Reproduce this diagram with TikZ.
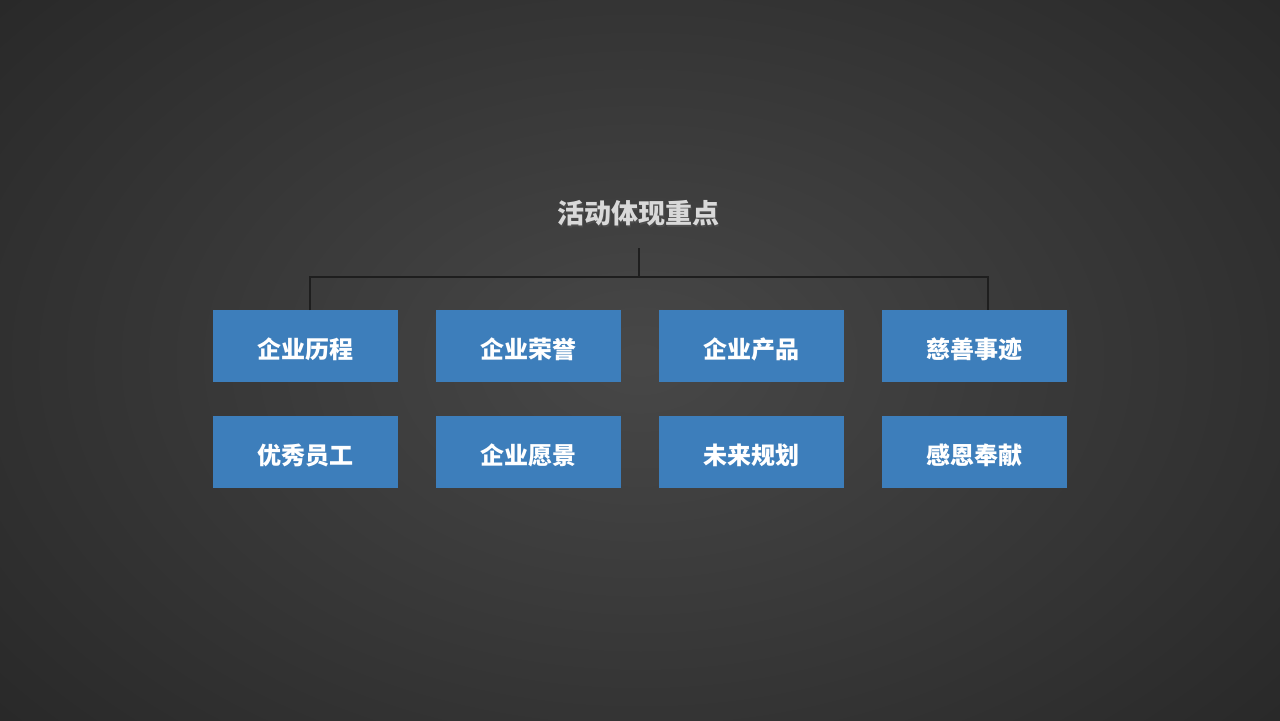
\documentclass[tikz,border=0pt]{standalone}
\usepackage{fontspec}
\newfontfamily\cjk{Noto Sans CJK SC}
\definecolor{boxblue}{HTML}{3D7EBB}
\definecolor{linec}{HTML}{1E1E1E}
\begin{document}
\begin{tikzpicture}[x=0.5pt,y=-0.5pt,
  item/.style={fill=boxblue,minimum width=92.5pt,minimum height=36pt,inner sep=0pt,text=white,text depth=0pt,font=\cjk\bfseries\fontsize{12}{14}\selectfont},
  conn/.style={draw=linec,line width=0.6pt}]
\useasboundingbox (0,0) rectangle (1280,720);
\shade[inner color=black!72,outer color=black!84] (-200,-200) rectangle (1480,920);
\node[text=black!70,font=\cjk\bfseries\fontsize{13.5}{16}\selectfont] at (639.8,214.8) {活动体现重点};
\node (t) [text=black!15,font=\cjk\bfseries\fontsize{13.5}{16}\selectfont] at (638,213) {活动体现重点};
\node[item] (a1) at (305.5,346) {\raisebox{-2.5pt}{企业历程}};
\node[item] (a2) at (528,346) {\raisebox{-2.5pt}{企业荣誉}};
\node[item] (a3) at (751,346) {\raisebox{-2.5pt}{企业产品}};
\node[item] (a4) at (974,346) {\raisebox{-2.5pt}{慈善事迹}};
\node[item] (b1) at (305.5,452) {\raisebox{-2.5pt}{优秀员工}};
\node[item] (b2) at (528,452) {\raisebox{-2.5pt}{企业愿景}};
\node[item] (b3) at (751,452) {\raisebox{-2.5pt}{未来规划}};
\node[item] (b4) at (974,452) {\raisebox{-2.5pt}{感恩奉献}};
\coordinate (top) at (639,248);
\coordinate (mid) at (639,277);
\coordinate (l) at (310,277);
\coordinate (r) at (988,277);
\draw[conn] (top) -- (mid);
\draw[conn] (310,310) -- (l) -- (r) -- (988,310);
\end{tikzpicture}
\end{document}
